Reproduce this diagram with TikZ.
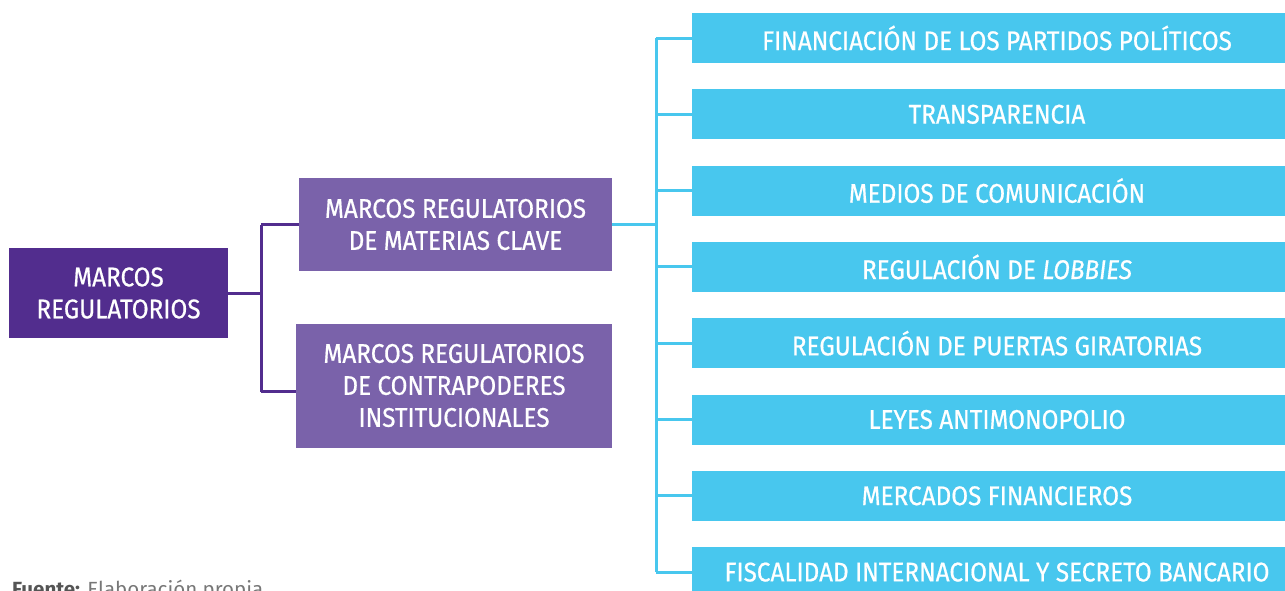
\documentclass[tikz,border=0pt]{standalone}
\usepackage{fontspec}
\usepackage{xcolor}
\setmainfont[FakeStretch=0.9,FakeBold=0.6]{Fira Sans}
\newfontfamily\notefont{Fira Sans}
\definecolor{rootpurple}{HTML}{522D8E}
\definecolor{midpurple}{HTML}{7A62AA}
\definecolor{topiccyan}{HTML}{48C7EE}
\definecolor{notegray}{HTML}{555555}

\begin{document}
\begin{tikzpicture}[x=1pt,y=-1pt]
			\tikzstyle{root} = [fill=rootpurple, text=white, minimum width=219pt, minimum height=90pt, align=center, font=\fontsize{27}{32}\selectfont]
			\tikzstyle{marco} = [fill=midpurple, text=white, align=center, font=\fontsize{27}{32}\selectfont]
			\tikzstyle{topic} = [fill=topiccyan, text=white, minimum width=610pt, minimum height=50pt, font=\fontsize{27}{32}\selectfont]
			\tikzset{pline/.style = {draw=rootpurple, line width=3pt}}
			\tikzset{cline/.style = {draw=topiccyan, line width=3pt}}
			
			\clip (0,0) rectangle (1285,590);
			\useasboundingbox (0,0) rectangle (1285,590);
			
			\node[root](root) at (118.5,293) {MARCOS\\REGULATORIOS};
			\node[marco, minimum width=313pt, minimum height=93pt](clave) at (455.5,224.5) {MARCOS REGULATORIOS\\DE MATERIAS CLAVE};
			\node[marco, minimum width=316pt, minimum height=124pt](contra) at (454,385.5) {MARCOS REGULATORIOS\\DE CONTRAPODERES\\INSTITUCIONALES};
			
			\coordinate (pbus) at (261,293);
			\coordinate (contrain) at ([yshift=-6pt]contra.west);
			\draw[pline](root.east) to (pbus);
			\draw[pline](pbus |- clave.west) to (clave.west);
			\draw[pline](pbus |- clave.west) to (pbus |- contrain);
			\draw[pline](pbus |- contrain) to (contrain);
			
			\node[topic](fin) at (997,38) {FINANCIACIÓN DE LOS PARTIDOS POLÍTICOS};
			\node[topic](transp) at (997,114.3) {TRANSPARENCIA};
			\node[topic](medios) at (997,190.6) {MEDIOS DE COMUNICACIÓN};
			\node[topic](lobbies) at (997,266.9) {REGULACIÓN DE \textit{LOBBIES}};
			\node[topic](puertas) at (997,343.2) {REGULACIÓN DE PUERTAS GIRATORIAS};
			\node[topic](antimon) at (997,419.5) {LEYES ANTIMONOPOLIO};
			\node[topic](mercados) at (997,495.8) {MERCADOS FINANCIEROS};
			\node[topic](fiscal) at (997,572.1) {FISCALIDAD INTERNACIONAL Y SECRETO BANCARIO};
			
			\coordinate (cbus) at (656,224.5);
			\draw[cline](clave.east) to (cbus);
			\draw[cline](cbus |- fin.west) to (cbus |- fiscal.west);
			\foreach \t in {fin,transp,medios,lobbies,puertas,antimon,mercados,fiscal}
				\draw[cline](cbus |- \t.west) to (\t.west);
			
			\node[anchor=base west, inner sep=0pt, text=notegray, font=\notefont\fontsize{20.5}{24}\selectfont](fuente) at (12,596) {\textbf{Fuente:} {\color{notegray!80}Elaboración propia}};
			
			\end{tikzpicture}
\end{document}
